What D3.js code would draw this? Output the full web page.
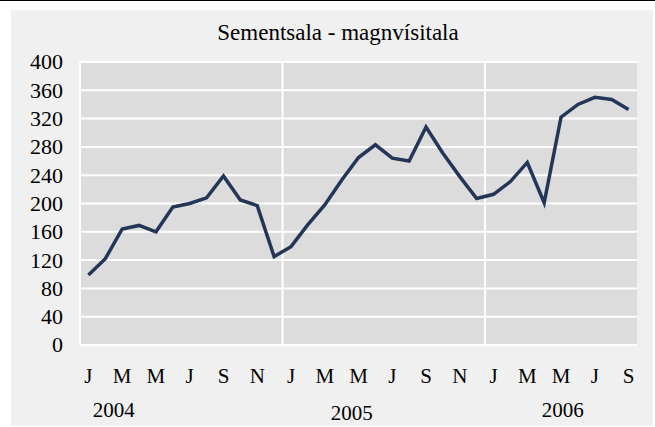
<!DOCTYPE html>
<html>
<head>
<meta charset="utf-8">
<script src="https://cdn.jsdelivr.net/npm/d3@7"></script>
<style>
  body { margin: 0; background: #fff; }
  text { font-family: "Liberation Serif", "Times New Roman", serif; fill: #000; }
</style>
</head>
<body>
<div id="chart"></div>
<script>
(function (d3) {
  "use strict";

// data: monthly index, Jan 2004 - Sep 2006
var monthInitials = ["J", "F", "M", "A", "M", "J", "J", "A", "S", "O", "N", "D"];
var years = ["2004", "2005", "2006"];
var values = [
  99, 122, 164, 169, 160, 195, 200, 208, 239, 205, 197, 125,
  139, 170, 198, 233, 265, 283, 264, 260, 308, 271, 238, 207,
  213, 231, 258, 201, 322, 340, 350, 347, 333
];
var yTicks = [0, 40, 80, 120, 160, 200, 240, 280, 320, 360, 400];
var title = "Sementsala - magnvísitala";

var opt = {
  width: 655, height: 427,
  plot: {left: 80, right: 637, top: 62, bottom: 345}
};

var svg = d3.select("#chart").append("svg")
  .attr("width", opt.width)
  .attr("height", opt.height);

// outer frame
svg.append("line")
  .attr("x1", 0).attr("x2", opt.width).attr("y1", 0.5).attr("y2", 0.5)
  .style("stroke", "#000").style("stroke-width", 1);
svg.append("rect")
  .attr("x", 11).attr("y", 10).attr("width", 642).attr("height", 416)
  .style("fill", "#f0f0f0");

var xScale = d3.scaleBand()
  .domain(d3.range(values.length))
  .range([opt.plot.left, opt.plot.right]);
var yScale = d3.scaleLinear()
  .domain([0, 400])
  .range([opt.plot.bottom, opt.plot.top]);

// plot background
svg.append("rect")
  .attr("x", opt.plot.left).attr("y", opt.plot.top)
  .attr("width", opt.plot.right - opt.plot.left)
  .attr("height", opt.plot.bottom - opt.plot.top)
  .style("fill", "#dcdcdc");

// horizontal grid
svg.append("g").selectAll("line")
  .data(yTicks).enter()
  .append("line")
  .attr("x1", opt.plot.left).attr("x2", opt.plot.right)
  .attr("y1", d => yScale(d)).attr("y2", d => yScale(d))
  .style("stroke", "#fff").style("stroke-width", 2);

// year separators (and the axis line on the left)
var sepIdx = [0, 12, 24];
svg.append("g").selectAll("line")
  .data(sepIdx).enter()
  .append("line")
  .attr("x1", d => xScale(d)).attr("x2", d => xScale(d))
  .attr("y1", opt.plot.top).attr("y2", opt.plot.bottom)
  .style("stroke", "#fff").style("stroke-width", 2);

// y axis labels
svg.append("g").selectAll("text")
  .data(yTicks).enter()
  .append("text")
  .attr("x", 63)
  .attr("y", d => yScale(d))
  .attr("dy", "0.34em")
  .style("text-anchor", "end")
  .style("font-size", "22px")
  .text(d => d);

// x axis month labels, every other month
var cx = i => xScale(i) + xScale.bandwidth() / 2;
svg.append("g").selectAll("text")
  .data(d3.range(0, values.length, 2)).enter()
  .append("text")
  .attr("x", cx)
  .attr("y", 383)
  .style("text-anchor", "middle")
  .style("font-size", "21px")
  .text(i => monthInitials[i % 12]);

// year labels (placed like the original text boxes)
var yearPos = [{at: 1.5, y: 417}, {at: 15.6, y: 420}, {at: 28.1, y: 417}];
svg.append("g").selectAll("text")
  .data(years).enter()
  .append("text")
  .attr("x", (d, i) => cx(0) + yearPos[i].at * xScale.step())
  .attr("y", (d, i) => yearPos[i].y)
  .style("text-anchor", "middle")
  .style("font-size", "21px")
  .text(d => d);

// line
var line = d3.line()
  .x((d, i) => cx(i))
  .y(d => yScale(d));
svg.append("path")
  .datum(values)
  .attr("d", line)
  .style("fill", "none")
  .style("stroke", "#243657")
  .style("stroke-width", 3.5);

// title
svg.append("text")
  .attr("x", 338)
  .attr("y", 40)
  .style("text-anchor", "middle")
  .style("font-size", "23px")
  .text(title);

}(d3));
</script>
</body>
</html>
